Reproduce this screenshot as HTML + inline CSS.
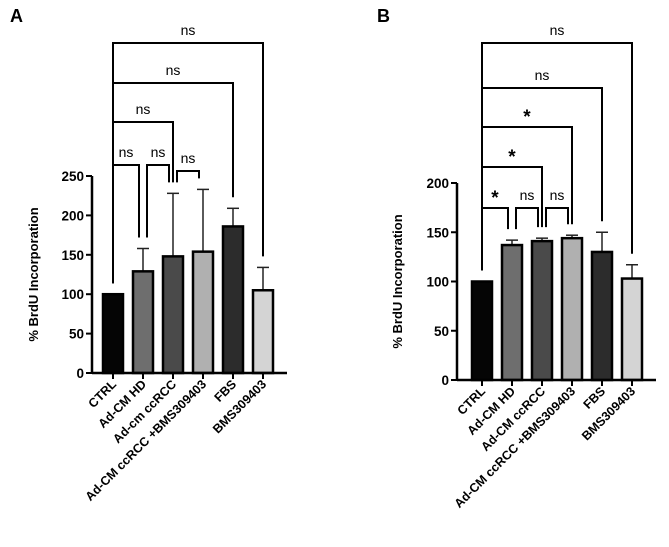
<!DOCTYPE html>
<html><head><meta charset="utf-8">
<style>
html,body{margin:0;padding:0;background:#fff;}
svg{display:block;font-family:"Liberation Sans",Arial,sans-serif;}
</style></head>
<body>
<svg id="chart" width="669" height="547" viewBox="0 0 669 547"></svg>
<script>
// Panel A data
const catsA = ["CTRL","Ad-CM HD","Ad-cm ccRCC","Ad-CM ccRCC +BMS309403","FBS","BMS309403"];
const meansA = [100,129,148,154,186,105];
const errTopA = [100,158,228,233,209,134];
const fillsA = ["#050505","#6e6e6e","#4a4a4a","#b0b0b0","#2c2c2c","#d4d4d4"];
const ticksA = [0,50,100,150,200,250];
const bracketsA = [[0,1,"ns"],[1,2,"ns"],[2,3,"ns"],[0,2,"ns"],[0,4,"ns"],[0,5,"ns"]];
// Panel B data
const catsB = ["CTRL","Ad-CM HD","Ad-CM ccRCC","Ad-CM ccRCC +BMS309403","FBS","BMS309403"];
const meansB = [100,137,141,144,130,103];
const errTopB = [100,142,144,147,150,117];
const fillsB = fillsA;
const ticksB = [0,50,100,150,200];
const bracketsB = [[0,1,"*"],[1,2,"ns"],[2,3,"ns"],[0,2,"*"],[0,3,"*"],[0,4,"ns"],[0,5,"ns"]];

const NS="http://www.w3.org/2000/svg";
const svg=document.getElementById('chart');
function el(tag,attrs,parent){const e=document.createElementNS(NS,tag);for(const k in attrs)e.setAttribute(k,attrs[k]);(parent||svg).appendChild(e);return e;}

function panel(cfg){
  const g=el('g',{});
  
  
  const y=v=>cfg.y0-(v/cfg.ymax)*(cfg.y0-cfg.yTop);
  const x=i=>cfg.x0+i*30;
  const L=el('text',{x:cfg.letterX,y:22,'font-size':18,'font-weight':'bold'},g);L.textContent=cfg.letter;
  
  
  const t=el('text',{transform:`translate(${cfg.titleX},${(cfg.y0+cfg.yTop)/2}) rotate(-90)`,'text-anchor':'middle','font-size':13,'font-weight':'bold'},g);
  t.textContent='% BrdU Incorporation';
  
  
  cfg.means.forEach((m,i)=>{
    const e=cfg.err[i];
    if(e>m){el('line',{x1:x(i),x2:x(i),y1:y(m),y2:y(e),stroke:'#222','stroke-width':1.5},g);
      el('line',{x1:x(i)-6,x2:x(i)+6,y1:y(e),y2:y(e),stroke:'#222','stroke-width':1.5},g);}
    const r=el('rect',{x:x(i)-10,y:y(m),width:20,height:cfg.y0-y(m),fill:cfg.fills[i],stroke:'#000','stroke-width':2.5},g);
    
    
  });
  el('line',{x1:cfg.axX,x2:cfg.axX,y1:cfg.yTop,y2:cfg.y0,stroke:'#000','stroke-width':2.5},g);
  el('line',{x1:cfg.axX,x2:x(cfg.means.length-1)+24,y1:cfg.y0,y2:cfg.y0,stroke:'#000','stroke-width':2.5},g);
  cfg.ticks.forEach(v=>{
    el('line',{x1:cfg.axX-6,x2:cfg.axX,y1:y(v),y2:y(v),stroke:'#000','stroke-width':2},g);
    const tt=el('text',{x:cfg.axX-8,y:y(v)+5,'text-anchor':'end','font-size':13.5,'font-weight':'bold'},g);
    tt.textContent=v;
    
    
  });
  cfg.cats.forEach((c,i)=>{
    el('line',{x1:x(i),x2:x(i),y1:cfg.y0,y2:cfg.y0+6,stroke:'#000','stroke-width':2},g);
    const tl=el('text',{transform:`translate(${x(i)+4},${cfg.y0+12}) rotate(-45)`,'text-anchor':'end','font-size':12.5,'font-weight':'bold'},g);
    tl.textContent=c;
    
    
  });
  cfg.brackets.forEach((b,k)=>{
    const top=cfg.levels[k];
    const adj=b[1]-b[0]===1;
    const x1=x(b[0])+(adj&&b[0]>0?4:0), x2=x(b[1])-(adj?4:0);
    const le=y(cfg.err[b[0]])-11, re=y(cfg.err[b[1]])-11;
    const d = (adj||b[0]===0) ? `M${x1},${le} V${top} H${x2} V${re}` : `M${x1},${top+12} V${top} H${x2} V${re}`;
    const p=el('path',{d:d,fill:'none',stroke:'#000','stroke-width':2},g);
    
    
    const s=el('text',{x:(x1+x2)/2,y:top-(b[2]==='*'?4:8),'text-anchor':'middle','font-size':b[2]==='*'?19:14,'font-weight':b[2]==='*'?'bold':'normal'},g);
    s.textContent=b[2];
    
    
  });
}

panel({name:'panel-a',letter:'A',letterX:10,titleX:38,cats:catsA,means:meansA,err:errTopA,fills:fillsA,ticks:ticksA,
  brackets:bracketsA,ymax:250,y0:373,yTop:176,axX:92,x0:113,
  levels:[165,165,171,122,83,43]});
panel({name:'panel-b',letter:'B',letterX:377,titleX:402,cats:catsB,means:meansB,err:errTopB,fills:fillsB,ticks:ticksB,
  brackets:bracketsB,ymax:200,y0:380,yTop:183,axX:457,x0:482,
  levels:[208,208,208,167,127,88,43]});
</script>
</body></html>
